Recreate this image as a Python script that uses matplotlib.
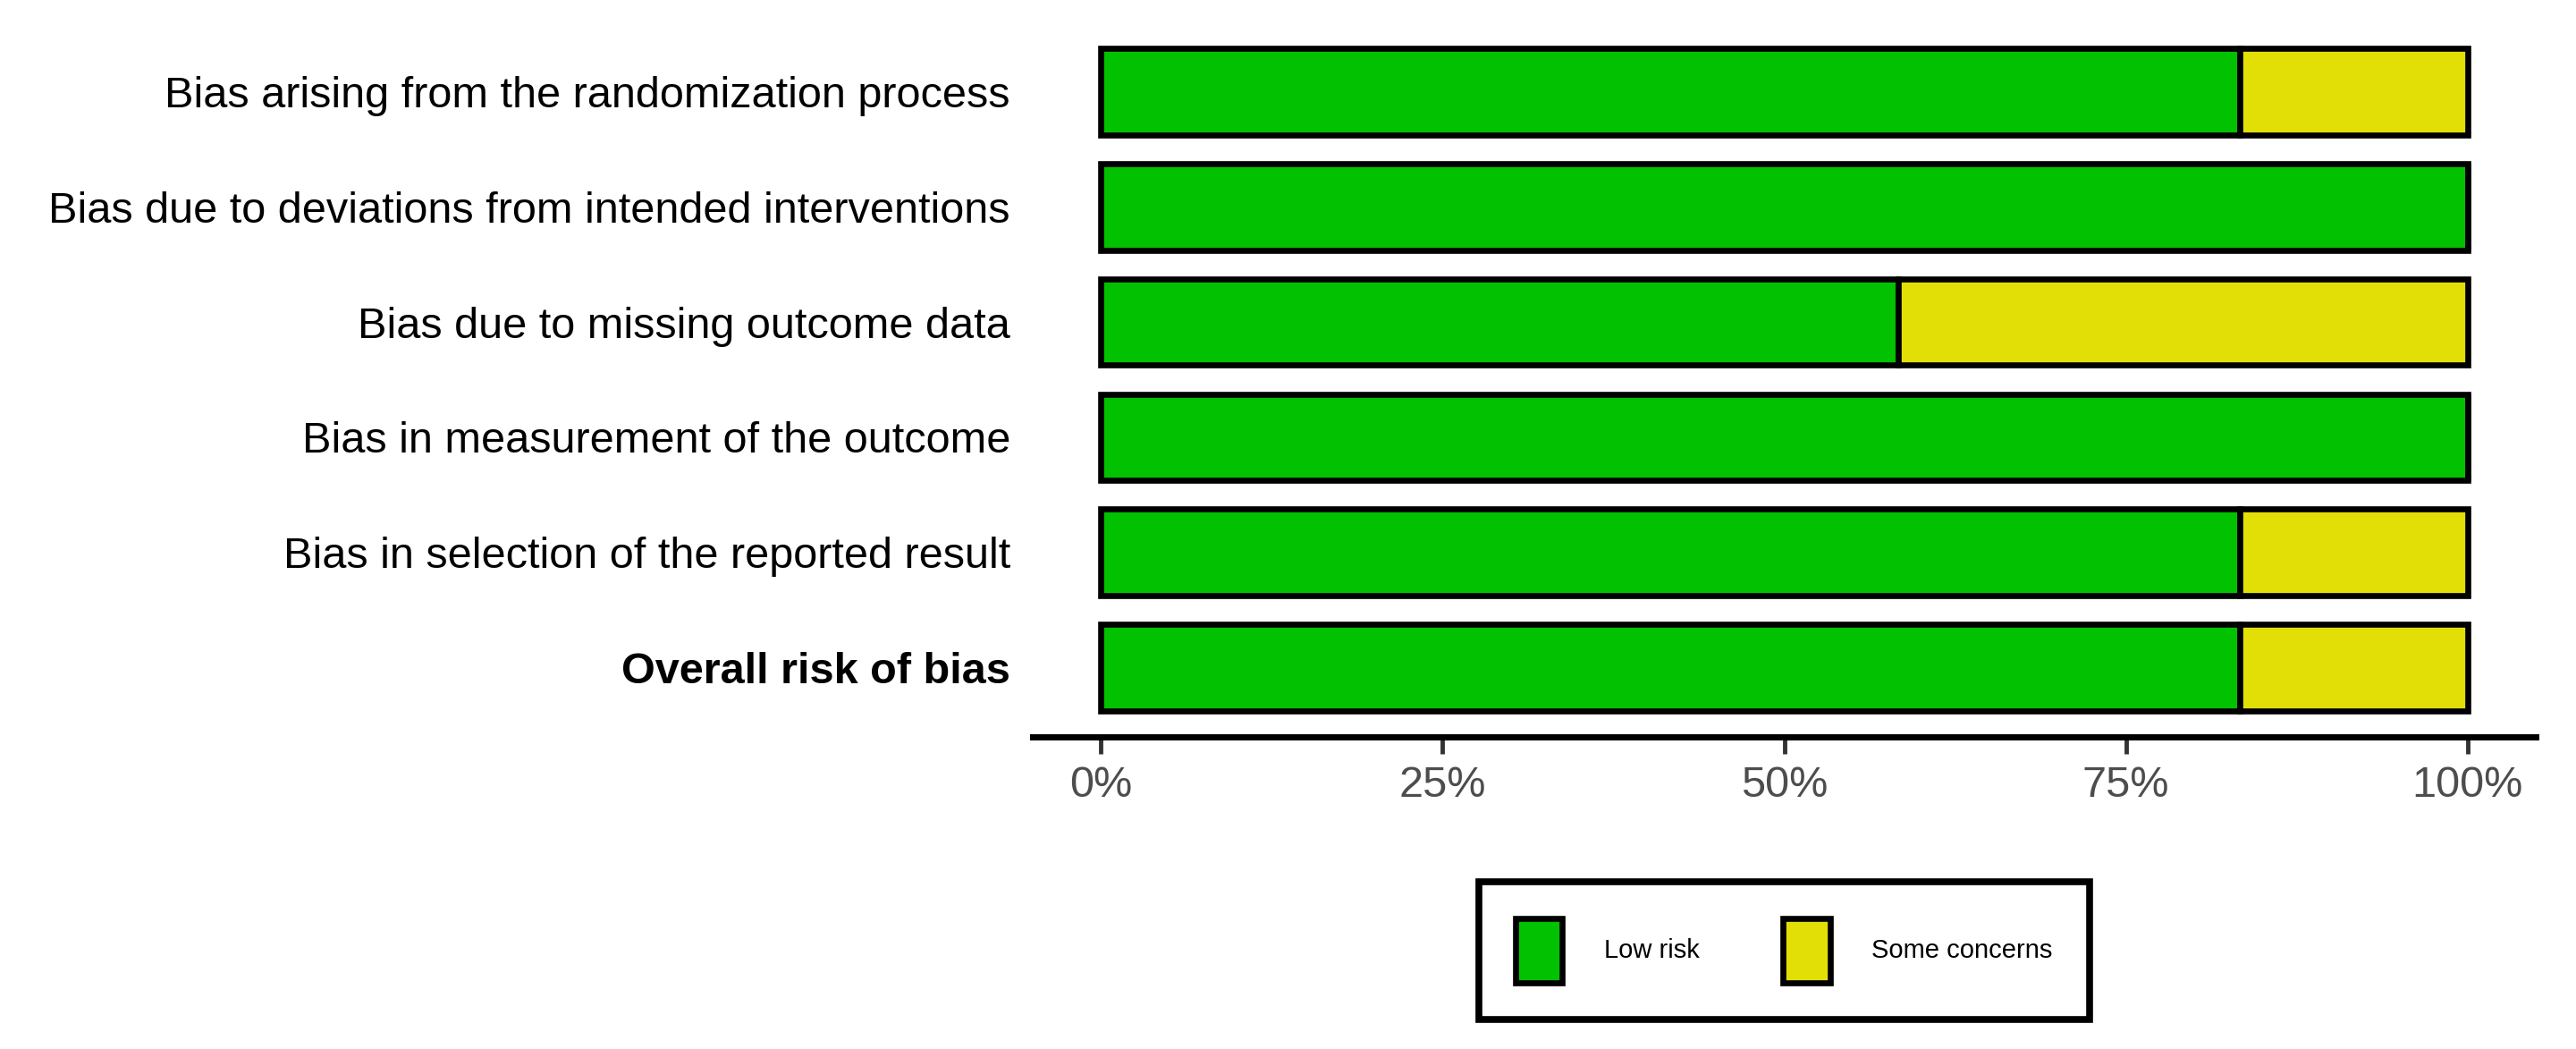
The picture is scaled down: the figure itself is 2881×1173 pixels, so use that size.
import numpy as np
import matplotlib
matplotlib.use('Agg')
import matplotlib.pyplot as plt
from matplotlib import font_manager

# Dominios y porcentajes (robvis summary)
dominios = ['Bias arising from the randomization process',
            'Bias due to deviations from intended interventions',
            'Bias due to missing outcome data',
            'Bias in measurement of the outcome',
            'Bias in selection of the reported result',
            'Overall risk of bias']
bajo_riesgo = [83.33, 100, 58.33, 100, 83.33, 83.33]
algunas_dudas = [16.67, 0, 41.67, 0, 16.67, 16.67]
ticks_x = [0, 25, 50, 75, 100]
etiquetas_x = ['0%', '25%', '50%', '75%', '100%']

verde = '#02C100'
amarillo = '#E2DF07'

# Fuente estrecha si existe
nombres = {f.name for f in font_manager.fontManager.ttflist}
fuente = 'Liberation Sans Narrow' if 'Liberation Sans Narrow' in nombres else 'Liberation Sans'
plt.rcParams['font.family'] = [fuente, 'DejaVu Sans']

fig = plt.figure(figsize=(28.81, 11.73), dpi=100)
ax = fig.add_axes([0.4009, 0.2975, 0.9844 - 0.4009, 0.9787 - 0.2975])

y = np.arange(len(dominios))
ax.barh(y, bajo_riesgo, height=0.75, color=verde, edgecolor='black',
        linewidth=4.8, label='Low risk')
ax.barh(y, algunas_dudas, left=bajo_riesgo, height=0.75, color=amarillo,
        edgecolor='black', linewidth=4.8, label='Some concerns')

ax.set_xlim(-5, 105)
ax.set_ylim(len(dominios) - 0.4, -0.6)

ax.set_yticks(y)
ax.set_yticklabels(dominios, fontsize=35, color='black')
ax.get_yticklabels()[-1].set_fontweight('bold')
ax.tick_params(axis='y', length=0, pad=18)

ax.set_xticks(ticks_x)
ax.set_xticklabels(etiquetas_x, fontsize=35, color='#4D4D4D')
ax.tick_params(axis='x', length=14, width=3.5, color='#333333', pad=9)

for lado in ['top', 'right', 'left']:
    ax.spines[lado].set_visible(False)
ax.spines['bottom'].set_linewidth(5)
ax.spines['bottom'].set_color('black')

# Leyenda
leyenda = fig.legend(loc='center', bbox_to_anchor=(0.6926, 0.0938), ncol=2,
                     fontsize=21, frameon=True, fancybox=False,
                     handlelength=1.8, handleheight=3.45, handletextpad=1.6,
                     columnspacing=3.2, borderpad=1.4)
leyenda.get_frame().set_edgecolor('black')
leyenda.get_frame().set_linewidth(5.5)
leyenda.get_frame().set_alpha(1)

fig.savefig('out.png', dpi=100, facecolor='white')
